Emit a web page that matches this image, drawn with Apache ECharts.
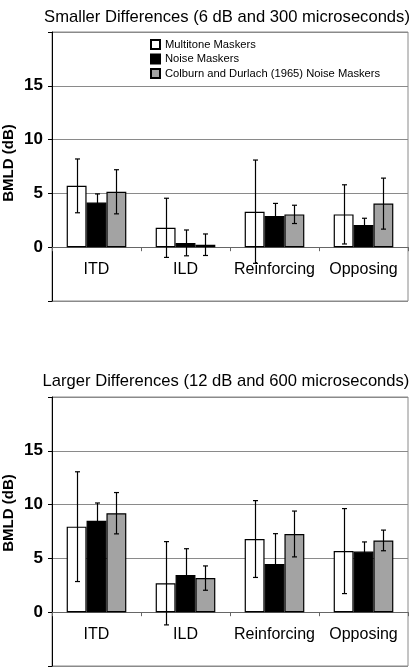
<!DOCTYPE html>
<html>
<head>
<meta charset="utf-8">
<script src="https://cdn.jsdelivr.net/npm/echarts@6/dist/echarts.min.js"></script>
<style>
html,body{margin:0;padding:0;background:#fff;}
#chart{width:420px;height:667px;}
</style>
</head>
<body>
<div id="chart"></div>
<script>
const categories = ['ITD', 'ILD', 'Reinforcing', 'Opposing'];
const seriesNames = ['Multitone Maskers', 'Noise Maskers', 'Colburn and Durlach (1965) Noise Maskers'];
const titles = ['Smaller Differences (6 dB and 300 microseconds)', 'Larger Differences (12 dB and 600 microseconds)'];
const yTicks = [-5, 0, 5, 10, 15, 20];
const yLabelText = 'BMLD (dB)';

// Smaller differences
const smallMultitone = [5.7, 1.8, 3.3, 3.05];
const smallMultitoneErr = [2.5, 2.75, 4.8, 2.75];
const smallNoise = [4.15, 0.4, 2.9, 2.07];
const smallNoiseErr = [0.8, 1.2, 1.17, 0.62];
const smallColburn = [5.15, 0.23, 3.05, 4.05];
const smallColburnErr = [2.05, 1.0, 0.85, 2.37];

// Larger differences
const largeMultitone = [7.95, 2.69, 6.8, 5.68];
const largeMultitoneErr = [5.1, 3.87, 3.57, 3.95];
const largeNoise = [8.5, 3.45, 4.48, 5.63];
const largeNoiseErr = [1.65, 2.45, 2.82, 0.9];
const largeColburn = [9.2, 3.17, 7.27, 6.67];
const largeColburnErr = [1.92, 1.13, 2.13, 0.96];

const colors = ['#ffffff', '#000000', '#a3a3a3'];
const FONT = '"Liberation Sans", Arial, sans-serif';
const GAP = 0.33;
const GRID_H = 269;

const panels = [
  {vals: [smallMultitone, smallNoise, smallColburn], errs: [smallMultitoneErr, smallNoiseErr, smallColburnErr]},
  {vals: [largeMultitone, largeNoise, largeColburn], errs: [largeMultitoneErr, largeNoiseErr, largeColburnErr]}
];

const grids = [
  {left: 52, right: 12, top: 32, height: GRID_H},
  {left: 52, right: 12, top: 397, height: GRID_H}
].map(g => Object.assign(g, {show: true, borderColor: '#8a8a8a', borderWidth: 1, backgroundColor: '#fff'}));

// place the category axis on the zero line of the value axis
const zeroOffset = -GRID_H * (0 - yTicks[0]) / (yTicks[yTicks.length - 1] - yTicks[0]);

const xAxes = [0, 1].map(i => ({
  type: 'category', gridIndex: i, data: categories, position: 'bottom', offset: zeroOffset,
  axisLine: {onZero: false, lineStyle: {color: '#666', width: 1}},
  axisTick: {show: true, alignWithLabel: false, inside: false, length: 4, lineStyle: {color: '#666'}},
  axisLabel: {color: '#000', fontSize: 16, fontFamily: FONT, margin: 14, interval: 0, hideOverlap: false},
  splitLine: {show: false}
}));

const yAxes = [0, 1].map(i => ({
  type: 'value', gridIndex: i, min: yTicks[0], max: yTicks[yTicks.length - 1], interval: 5,
  axisLine: {show: true, onZero: false, lineStyle: {color: '#000', width: 1}},
  axisTick: {show: true, length: 4, lineStyle: {color: '#000'}},
  axisLabel: {
    color: '#000', fontSize: 17, fontWeight: 'bold', fontFamily: FONT, margin: 9,
    formatter: v => (v === yTicks[0] || v === yTicks[yTicks.length - 1]) ? '' : String(v)
  },
  splitLine: {show: true, lineStyle: {color: '#8a8a8a', width: 1}}
}));

function errRenderer(k) {
  return function (params, api) {
    const x = api.value(0), v = api.value(1), e = api.value(2);
    const bw = api.size([1, 0])[0] * (1 - GAP) / 3;
    const t = api.coord([x, v + e]);
    const b = api.coord([x, v - e]);
    const cx = Math.round(t[0] + (k - 1) * bw) + 0.5;
    const st = {stroke: '#000', lineWidth: 1.2};
    const h = 2.5;
    return {
      type: 'group',
      children: [
        {type: 'line', shape: {x1: cx, y1: t[1], x2: cx, y2: b[1]}, style: st},
        {type: 'line', shape: {x1: cx - h, y1: t[1], x2: cx + h, y2: t[1]}, style: st},
        {type: 'line', shape: {x1: cx - h, y1: b[1], x2: cx + h, y2: b[1]}, style: st}
      ]
    };
  };
}

const series = [];
panels.forEach((p, gi) => {
  p.vals.forEach((vals, k) => {
    series.push({
      type: 'bar', name: seriesNames[k], xAxisIndex: gi, yAxisIndex: gi,
      data: vals, barGap: '0%', barCategoryGap: (GAP * 100) + '%',
      itemStyle: {color: colors[k], borderColor: '#000', borderWidth: 1.2},
      emphasis: {disabled: true}, animation: false
    });
  });
  p.vals.forEach((vals, k) => {
    series.push({
      type: 'custom', name: 'err' + gi + k, xAxisIndex: gi, yAxisIndex: gi,
      data: vals.map((v, i) => [i, v, p.errs[k][i]]),
      renderItem: errRenderer(k), z: 5, silent: true, animation: false
    });
  });
});

const chart = echarts.init(document.getElementById('chart'), null, {renderer: 'canvas'});
chart.setOption({
  animation: false,
  backgroundColor: '#fff',
  title: [
    {text: titles[0], left: 222, top: 4, textAlign: 'center',
     textStyle: {fontSize: 16.6, fontWeight: 'normal', color: '#000', fontFamily: FONT}},
    {text: titles[1], left: 221, top: 368, textAlign: 'center',
     textStyle: {fontSize: 16.6, fontWeight: 'normal', color: '#000', fontFamily: FONT}}
  ],
  legend: {
    data: seriesNames, orient: 'vertical', left: 150, top: 39, padding: 0,
    itemWidth: 9, itemHeight: 9, itemGap: 3.5, icon: 'rect', selectedMode: false,
    textStyle: {fontSize: 11.2, color: '#000', fontFamily: FONT}
  },
  graphic: [
    {type: 'text', x: 9, y: 163, rotation: Math.PI / 2,
     style: {text: yLabelText, font: 'bold 15px ' + FONT, fill: '#000', align: 'center', verticalAlign: 'middle'}},
    {type: 'text', x: 9, y: 513, rotation: Math.PI / 2,
     style: {text: yLabelText, font: 'bold 15px ' + FONT, fill: '#000', align: 'center', verticalAlign: 'middle'}}
  ],
  grid: grids,
  xAxis: xAxes,
  yAxis: yAxes,
  series: series
});
</script>
</body>
</html>
